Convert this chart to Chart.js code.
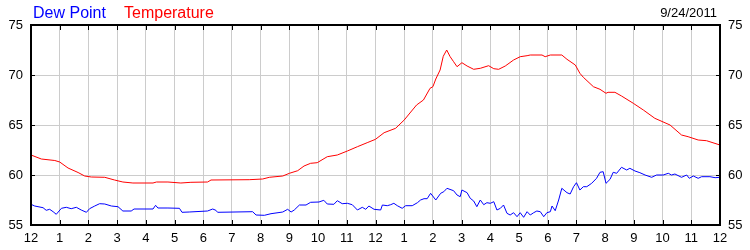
<!DOCTYPE html>
<html>
<head>
<meta charset="utf-8">
<script src="https://cdn.jsdelivr.net/npm/chart.js@4"></script>
<style>
  html, body { margin: 0; padding: 0; background: #ffffff; }
  #wrap { position: relative; width: 750px; height: 250px; }
</style>
</head>
<body>
<div id="wrap"><canvas id="c" width="750" height="250"></canvas></div>
<script>
// ---- data (hours since midnight, values in °F) ----
const hourLabels = ['12','1','2','3','4','5','6','7','8','9','10','11','12','1','2','3','4','5','6','7','8','9','10','11','12'];
const seriesNames = ['Dew Point', 'Temperature'];
const dateLabel = '9/24/2011';

const tempHours = [0,0.36,0.83,1.0,1.29,1.64,1.87,2.1,2.57,2.91,3.2,3.55,4.25,4.37,4.77,5.22,5.57,6.15,6.27,7.6,8.07,8.3,8.77,9.0,9.29,9.51,9.74,9.97,10.32,10.67,11.02,11.37,11.71,12.0,12.3,12.7,13.0,13.2,13.43,13.67,13.9,14.0,14.1,14.25,14.36,14.48,14.6,14.72,14.84,15.01,15.19,15.42,15.65,15.94,16.12,16.29,16.52,16.81,17.04,17.28,17.39,17.8,17.91,18.09,18.49,18.67,18.96,19.12,19.24,19.59,19.82,20.03,20.1,20.34,20.57,20.98,21.33,21.73,22.26,22.66,22.89,23.24,23.53,24.0];
const tempValues = [62.0,61.6,61.45,61.3,60.7,60.25,59.9,59.8,59.77,59.5,59.3,59.2,59.2,59.3,59.3,59.2,59.27,59.3,59.5,59.53,59.6,59.77,59.9,60.17,60.43,60.9,61.17,61.23,61.83,62.0,62.4,62.83,63.23,63.57,64.23,64.67,65.5,66.2,67.0,67.5,68.67,68.83,69.6,70.5,71.87,72.5,71.83,71.33,70.83,71.23,70.9,70.57,70.67,70.93,70.63,70.57,70.9,71.5,71.83,71.93,72.0,72.0,71.83,72.0,72.0,71.57,71.0,70.17,69.77,68.83,68.57,68.17,68.27,68.27,67.9,67.17,66.5,65.67,65.0,64.0,63.83,63.5,63.43,63.0];

const dewHours = [0,0.13,0.42,0.53,0.65,0.77,0.88,1.06,1.23,1.4,1.58,1.75,1.93,2.04,2.22,2.39,2.57,2.8,3.03,3.2,3.49,3.59,4.25,4.34,4.42,4.77,5.17,5.26,5.51,6.15,6.33,6.44,6.5,7.72,7.84,8.13,8.36,8.77,8.94,9.06,9.17,9.35,9.58,9.74,10.03,10.2,10.32,10.55,10.67,10.84,11.02,11.19,11.37,11.54,11.66,11.77,11.95,12.18,12.24,12.41,12.53,12.64,12.76,12.93,13.05,13.28,13.46,13.57,13.69,13.8,13.92,14.1,14.27,14.38,14.49,14.72,14.84,14.95,15.01,15.19,15.3,15.42,15.53,15.65,15.77,15.88,16.0,16.12,16.23,16.35,16.46,16.58,16.69,16.81,16.93,17.04,17.16,17.28,17.39,17.51,17.62,17.74,17.86,17.97,18.09,18.15,18.26,18.38,18.49,18.67,18.78,18.9,19.0,19.12,19.24,19.36,19.53,19.7,19.82,19.93,20.03,20.17,20.28,20.4,20.57,20.75,20.86,21.04,21.21,21.39,21.62,21.79,22.02,22.2,22.31,22.43,22.66,22.84,22.93,23.07,23.24,23.36,23.65,23.83,24.0];
const dewValues = [57.07,56.9,56.73,56.47,56.57,56.33,56.07,56.67,56.77,56.63,56.77,56.5,56.27,56.63,56.9,57.13,57.1,56.9,56.83,56.4,56.4,56.6,56.6,56.97,56.7,56.7,56.67,56.27,56.3,56.4,56.6,56.47,56.27,56.33,56.0,55.97,56.13,56.3,56.57,56.3,56.5,57.0,57.0,57.27,57.3,57.47,57.1,57.07,57.43,57.13,57.17,57.03,56.5,56.77,56.57,56.9,56.57,56.5,57.0,56.93,57.03,57.17,56.93,56.67,56.93,56.93,57.23,57.5,57.63,57.63,58.17,57.5,58.17,58.33,58.67,58.43,58.0,57.83,58.5,58.23,57.67,57.4,56.83,57.5,57.03,57.23,57.17,57.33,56.5,56.67,57.0,56.17,56.0,56.23,55.83,56.23,55.77,56.33,56.0,56.23,56.4,56.33,55.83,56.23,56.33,56.9,56.43,57.5,58.67,58.23,58.1,58.83,59.23,58.5,58.83,58.83,59.17,59.67,60.27,60.33,59.17,59.57,60.27,60.17,60.77,60.5,60.67,60.4,60.23,60.0,59.77,60.0,60.0,60.17,60.0,60.1,59.77,60.0,59.67,59.9,59.67,59.83,59.83,59.73,59.77];

const yMin = 55, yMax = 75, yStep = 5;

function toPoints(xs, ys) { return xs.map((x, i) => ({ x: x, y: ys[i] })); }

const FONT = "'Liberation Sans', Arial, sans-serif";
Chart.defaults.font.family = FONT;
Chart.defaults.font.size = 13;
Chart.defaults.color = '#000000';

const frame = {
  id: 'frame',
  afterDatasetsDraw(chart) {
    const ctx = chart.ctx, a = chart.chartArea;
    const xs = chart.scales.x, ys = chart.scales.y;
    ctx.save();
    ctx.strokeStyle = '#000000';
    ctx.lineWidth = 1;
    ctx.beginPath();
    for (let h = 1; h < 24; h++) {
      const px = Math.round(xs.getPixelForValue(h)) + 0.5;
      ctx.moveTo(px, a.top); ctx.lineTo(px, a.top + 5);
      ctx.moveTo(px, a.bottom); ctx.lineTo(px, a.bottom - 5);
    }
    for (let v = yMin + yStep; v < yMax; v += yStep) {
      const py = Math.round(ys.getPixelForValue(v)) + 0.5;
      ctx.moveTo(a.left, py); ctx.lineTo(a.left + 4, py);
      ctx.moveTo(a.right, py); ctx.lineTo(a.right - 4, py);
    }
    ctx.stroke();
    ctx.lineWidth = 2;
    ctx.strokeRect(a.left, a.top, a.right - a.left, a.bottom - a.top);
    ctx.restore();
  },
  afterDraw(chart) {
    const ctx = chart.ctx;
    ctx.save();
    ctx.textBaseline = 'alphabetic';
    ctx.font = '16px ' + FONT;
    ctx.textAlign = 'left';
    ctx.fillStyle = '#0000ff';
    ctx.fillText(seriesNames[0], 33, 18);
    ctx.fillStyle = '#ff0000';
    ctx.fillText(seriesNames[1], 124, 18);
    ctx.font = '13px ' + FONT;
    ctx.fillStyle = '#000000';
    ctx.textAlign = 'right';
    ctx.fillText(dateLabel, 717, 17);
    ctx.restore();
  }
};

new Chart(document.getElementById('c'), {
  type: 'line',
  data: {
    datasets: [
      { label: seriesNames[0], data: toPoints(dewHours, dewValues), borderColor: '#0000ff', borderWidth: 1, pointRadius: 0, tension: 0, fill: false, yAxisID: 'y' },
      { label: seriesNames[1], data: toPoints(tempHours, tempValues), borderColor: '#ff0000', borderWidth: 1, pointRadius: 0, tension: 0, fill: false, yAxisID: 'y' }
    ]
  },
  options: {
    responsive: false,
    animation: false,
    events: [],
    layout: { padding: { top: 25, left: 0, right: 0, bottom: 0 } },
    plugins: { legend: { display: false }, tooltip: { enabled: false }, title: { display: false } },
    scales: {
      x: {
        type: 'linear', min: 0, max: 24,
        afterFit(s) { s.height = 25; },
        afterBuildTicks(s) { s.ticks = hourLabels.map((_, i) => ({ value: i })); },
        ticks: { autoSkip: false, maxRotation: 0, padding: 6, callback: (v) => hourLabels[v] },
        grid: { color: '#cccccc', drawTicks: false, lineWidth: 1 },
        border: { display: false }
      },
      y: {
        type: 'linear', position: 'left', min: yMin, max: yMax,
        afterFit(s) { s.width = 31; },
        ticks: { stepSize: yStep, padding: 8 },
        grid: { color: '#cccccc', drawTicks: false },
        border: { display: false }
      },
      y2: {
        type: 'linear', position: 'right', min: yMin, max: yMax,
        afterFit(s) { s.width = 30; },
        ticks: { stepSize: yStep, padding: 8 },
        grid: { drawOnChartArea: false, drawTicks: false },
        border: { display: false }
      }
    }
  },
  plugins: [frame]
});
</script>
</body>
</html>
